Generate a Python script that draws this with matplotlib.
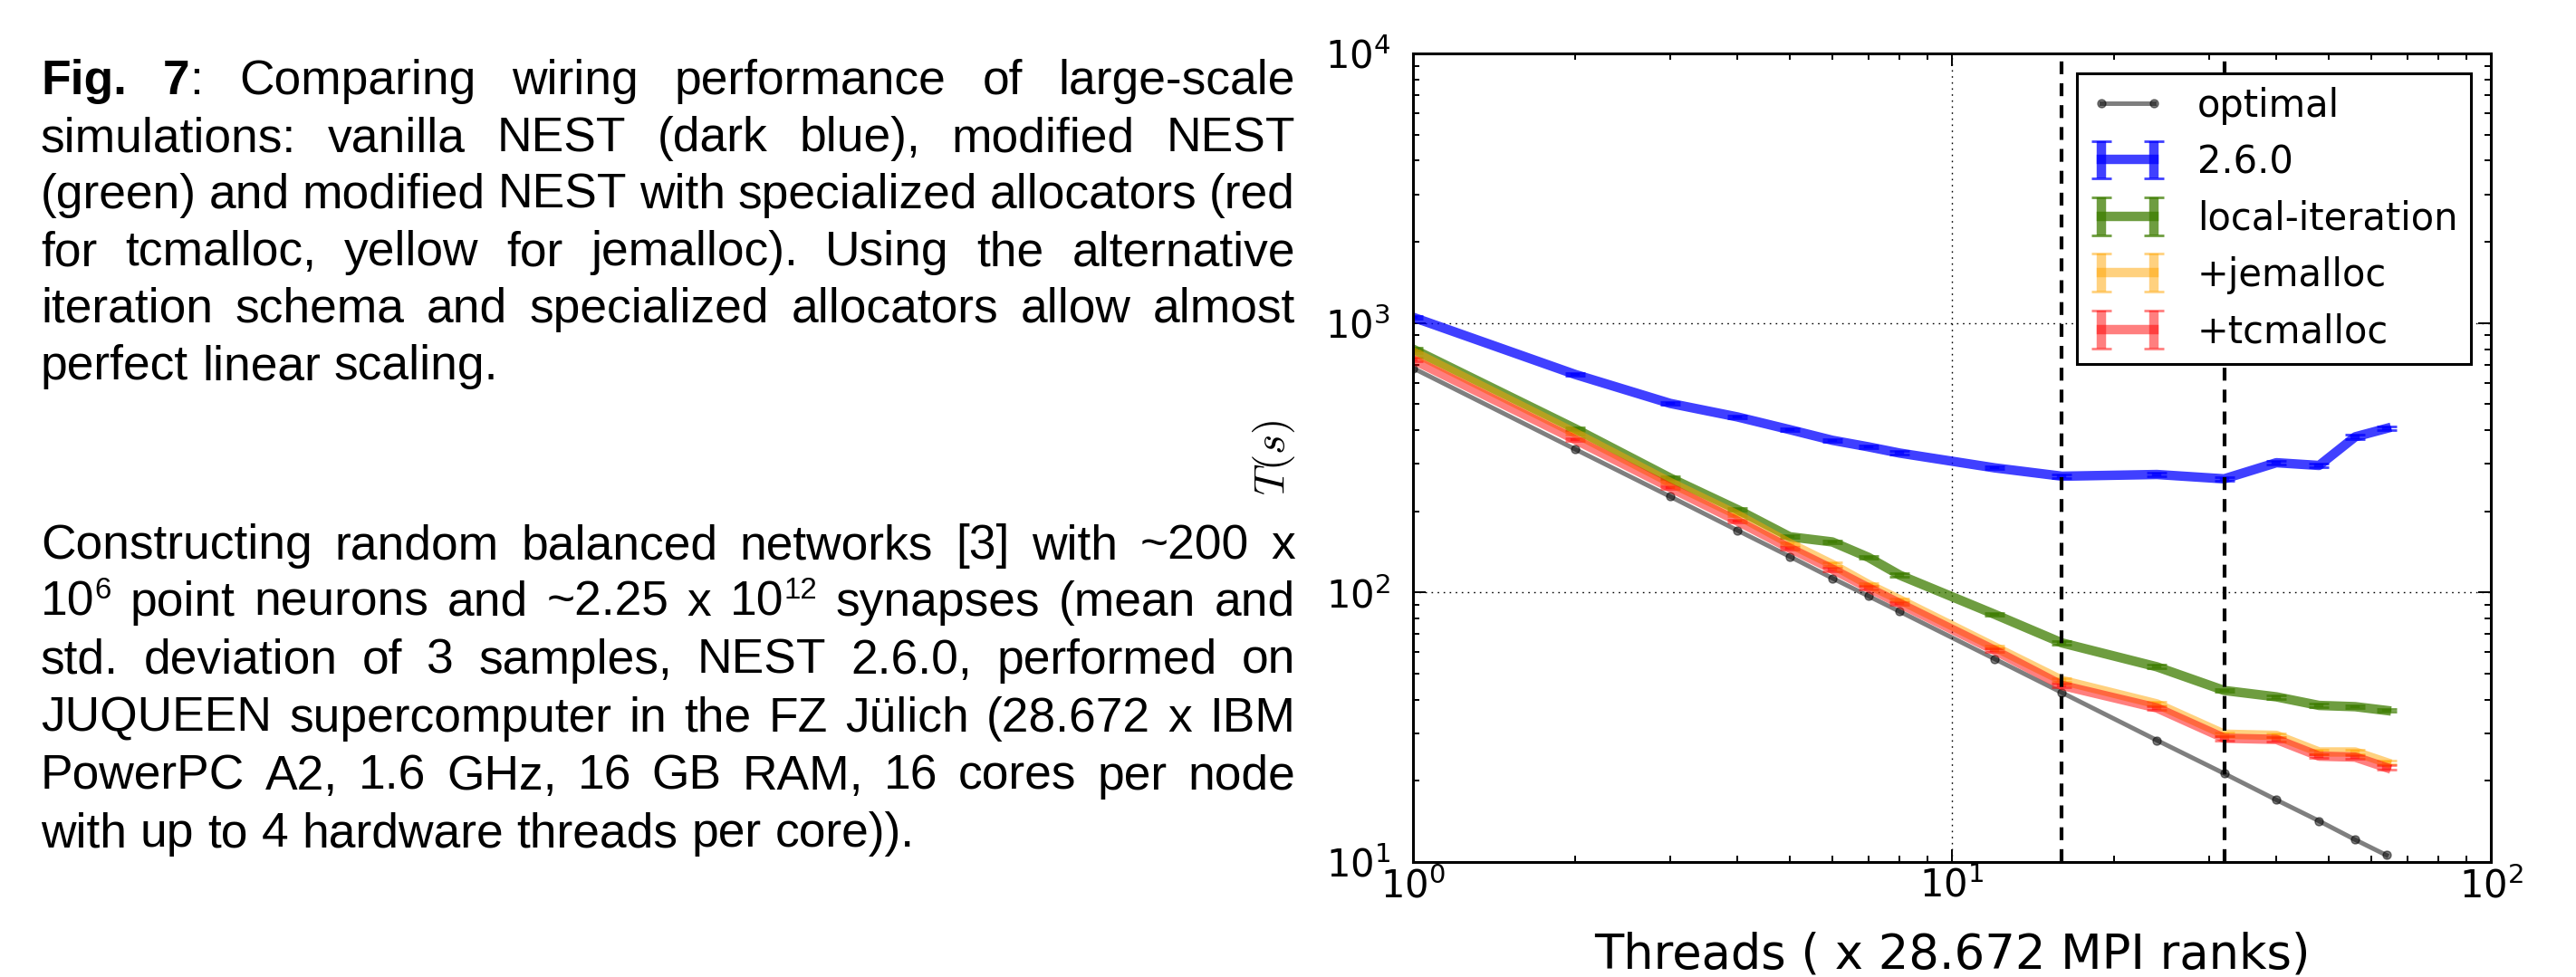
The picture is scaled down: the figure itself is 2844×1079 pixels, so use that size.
import re
import matplotlib
matplotlib.use('Agg')
import matplotlib.pyplot as plt

# ---------------- data ----------------
threads = [1, 2, 3, 4, 5, 6, 7, 8, 12, 16, 24, 32, 40, 48, 56, 64]
t_optimal = [680, 340, 227, 170, 136, 113, 97, 85, 56.7, 42.5, 28.3, 21.3, 17.0, 14.2, 12.1, 10.6]
t_260 = [1050, 644, 503, 448, 402, 367, 347, 329, 290, 270, 274, 264, 303, 296, 378, 406]
sd_260 = [15, 9, 7, 6, 6, 5, 5, 5, 4, 4, 4, 4, 5, 5, 6, 6]
t_local = [800, 405, 266, 203, 161, 154, 135, 116, 83, 65, 53, 43.3, 41, 38.1, 37.7, 36.5]
sd_local = [10, 5, 3, 2.5, 2, 2, 2, 1.6, 1.2, 0.9, 0.8, 0.6, 0.6, 0.5, 0.5, 0.5]
t_jemalloc = [782, 390, 256, 194, 152, 127, 107, 94, 62.8, 47.2, 38.6, 29.8, 29.5, 25.6, 25.6, 23.4]
sd_jemalloc = [10, 5, 3, 2.5, 2, 2, 1.5, 1.3, 0.9, 0.7, 0.6, 0.5, 0.5, 0.4, 0.4, 0.4]
t_tcmalloc = [731, 369, 245, 184, 146, 122, 104, 91, 61, 45.2, 37.3, 28.8, 28.5, 24.7, 24.5, 22.4]
sd_tcmalloc = [10, 5, 3, 2.5, 2, 2, 1.5, 1.3, 0.9, 0.7, 0.6, 0.5, 0.5, 0.4, 0.4, 0.4]
marked_threads = [16, 32]
series_labels = ['optimal', '2.6.0', 'local-iteration', '+jemalloc', '+tcmalloc']
xlabel_text = 'Threads ( x 28.672 MPI ranks)'
ylabel_text = r'$T(s)$'

para1 = [
    "**Fig.** **7**: Comparing wiring performance of large-scale",
    "simulations: vanilla NEST (dark blue), modified NEST",
    "(green) and modified NEST with specialized allocators (red",
    "for tcmalloc, yellow for jemalloc). Using the alternative",
    "iteration schema and specialized allocators allow almost",
    "perfect linear scaling.",
]
para2 = [
    "Constructing random balanced networks [3] with ~200 x",
    "10^{6} point neurons and ~2.25 x 10^{12} synapses (mean and",
    "std. deviation of 3 samples, NEST 2.6.0, performed on",
    "JUQUEEN supercomputer in the FZ Jülich (28.672 x IBM",
    "PowerPC A2, 1.6 GHz, 16 GB RAM, 16 cores per node",
    "with up to 4 hardware threads per core)).",
]

# ---------------- figure ----------------
W, H, DPI = 2844, 1079, 100
plt.rcParams['mathtext.fontset'] = 'dejavusans'
plt.rcParams['font.family'] = ['DejaVu Sans']
fig = plt.figure(figsize=(W / DPI, H / DPI), dpi=DPI, facecolor='white')
renderer = fig.canvas.get_renderer()

ax_l, ax_r, ax_t, ax_b = 1560, 2750, 59, 952
ax = fig.add_axes([ax_l / W, 1 - ax_b / H, (ax_r - ax_l) / W, (ax_b - ax_t) / H])
ax.set_xscale('log')
ax.set_yscale('log')

lw = 7.5
ax.plot(threads, t_optimal, '-o', color='k', alpha=0.5, lw=3.6, ms=6.5,
        label=series_labels[0])
styles = [
    (t_260, sd_260, 'b', 0.75),
    (t_local, sd_local, '#3d7d00', 0.75),
    (t_jemalloc, sd_jemalloc, '#ffa500', 0.5),
    (t_tcmalloc, sd_tcmalloc, 'r', 0.5),
]
for (vals, sd, col, a), lab in zip(styles, series_labels[1:]):
    ax.errorbar(threads, vals, yerr=sd, color=col, alpha=a, lw=lw,
                elinewidth=lw, capsize=8, capthick=2, label=lab)

for xv in marked_threads:
    ax.axvline(xv, color='k', lw=3.0, dashes=(3.4, 2.4), zorder=4)

ax.set_xlim(1, 100)
ax.set_ylim(10, 1e4)
ax.grid(True, which='major', color='k', linestyle=(0, (1.2, 3.6)), lw=1.0)
ax.tick_params(which='both', direction='in', top=True, right=True, width=1.4)
ax.tick_params(which='major', length=10, labelsize=30)
ax.tick_params(which='minor', length=5)
ax.tick_params(axis='y', pad=18)
ax.tick_params(axis='x', pad=4)
for s in ax.spines.values():
    s.set_linewidth(2.2)

ax.set_xlabel(xlabel_text, fontsize=38)
ax.xaxis.set_label_coords(0.5, (ax_b - 1069) / (ax_b - ax_t))
ax.xaxis.label.set_va('baseline')
ax.set_ylabel(ylabel_text, fontsize=34, math_fontfamily='cm')
ax.yaxis.set_label_coords((1407 - ax_l) / (ax_r - ax_l), (ax_b - 505) / (ax_b - ax_t))
ax.yaxis.label.set_va('center')

leg = ax.legend(loc='upper right', bbox_to_anchor=(2728 / W, 1 - 81 / H),
                bbox_transform=fig.transFigure, borderaxespad=0, fontsize=30,
                numpoints=2, handlelength=2.0, handletextpad=0.85,
                borderpad=0.35, labelspacing=0.49, fancybox=False,
                framealpha=1, edgecolor='k')
leg.get_frame().set_linewidth(2.2)
leg.set_zorder(10)

# ---------------- justified caption text ----------------
FS = 38.4
FAM = 'Liberation Sans'
SUP_SCALE = 0.62
SUP_RISE = 0.36 * FS * DPI / 72.0


def segments(word):
    out = []
    for part in re.split(r'(\*\*[^*]+\*\*|\^\{[^}]+\})', word):
        if not part:
            continue
        if part.startswith('**'):
            out.append((part[2:-2], 'bold', False))
        elif part.startswith('^{'):
            out.append((part[2:-1], 'normal', True))
        else:
            out.append((part, 'normal', False))
    return out


def ink_width(s, weight='normal', size=FS):
    t = fig.text(0, 0, s, fontsize=size, family=FAM, weight=weight)
    w = t.get_window_extent(renderer).width
    t.remove()
    return w


def seg_advance(s, weight, size):
    return ink_width(s + 'x', weight, size) - ink_width('x', weight, size)


space_w = ink_width('a a') - ink_width('aa')


def word_layout(word):
    segs = segments(word)
    items = []
    x = 0.0
    for i, (s, wt, sup) in enumerate(segs):
        size = FS * SUP_SCALE if sup else FS
        items.append((x, s, wt, sup, size))
        if i < len(segs) - 1:
            x += seg_advance(s, wt, size)
        else:
            x += ink_width(s, wt, size)
    return items, x


def draw_paragraph(lines, baselines, x0=45, x1=1430):
    for k, (line, yb) in enumerate(zip(lines, baselines)):
        words = line.split(' ')
        lays = [word_layout(w) for w in words]
        total = sum(l[1] for l in lays)
        last = (k == len(lines) - 1)
        gap = space_w if last or len(words) < 2 else (x1 - x0 - total) / (len(words) - 1)
        x = x0
        for items, wwidth in lays:
            for dx, s, wt, sup, size in items:
                y = yb - (SUP_RISE if sup else 0)
                fig.text((x + dx) / W, 1 - y / H, s, fontsize=size, family=FAM,
                         weight=wt, ha='left', va='baseline')
            x += wwidth + gap


draw_paragraph(para1, [104, 167, 230, 293, 356, 419])
draw_paragraph(para2, [617, 680, 744, 808, 872, 935])

fig.savefig('out.png', dpi=DPI, facecolor='white')
